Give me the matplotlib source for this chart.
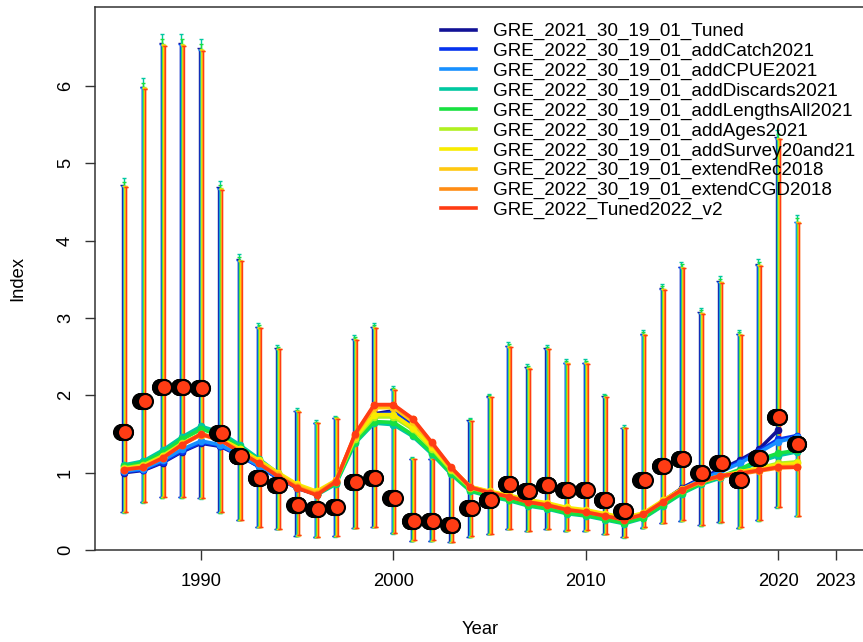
import numpy as np
import matplotlib
matplotlib.use("Agg")
import matplotlib.pyplot as plt

plt.rcParams['font.family'] = ['Liberation Sans', 'DejaVu Sans']

# Dados
anos = list(range(1986, 2022))

obs = [1.52, 1.93, 2.11, 2.11, 2.09, 1.51, 1.21, 0.93, 0.84, 0.58,
       0.53, 0.55, 0.88, 0.93, 0.67, 0.38, 0.38, 0.32, 0.54, 0.64,
       0.85, 0.76, 0.84, 0.78, 0.78, 0.64, 0.51, 0.90, 1.09, 1.18,
       0.99, 1.12, 0.90, 1.19, 1.72, 1.37]

modelos = ["GRE_2021_30_19_01_Tuned",
           "GRE_2022_30_19_01_addCatch2021",
           "GRE_2022_30_19_01_addCPUE2021",
           "GRE_2022_30_19_01_addDiscards2021",
           "GRE_2022_30_19_01_addLengthsAll2021",
           "GRE_2022_30_19_01_addAges2021",
           "GRE_2022_30_19_01_addSurvey20and21",
           "GRE_2022_30_19_01_extendRec2018",
           "GRE_2022_30_19_01_extendCGD2018",
           "GRE_2022_Tuned2022_v2"]

cores = ['#121296', '#0533EE', '#1890FF', '#00C8A0', '#18E040',
         '#B0F020', '#F8EC00', '#FFC810', '#FF8C14', '#FF3C14']

# desvio (log) usado no intervalo de cada modelo
sd_mod = [0.578, 0.577, 0.576, 0.587, 0.582, 0.577, 0.576, 0.576, 0.575, 0.575]

exp1 = [1.00, 1.03, 1.13, 1.27, 1.38, 1.34, 1.22, 1.08, 0.93, 0.80,
        0.72, 0.88, 1.42, 1.76, 1.80, 1.62, 1.33, 1.03, 0.80, 0.74,
        0.69, 0.62, 0.58, 0.52, 0.49, 0.44, 0.39, 0.46, 0.63, 0.80,
        0.93, 1.04, 1.16, 1.30, 1.55, None]
exp2 = [1.01, 1.04, 1.14, 1.28, 1.39, 1.35, 1.22, 1.08, 0.93, 0.80,
        0.72, 0.88, 1.43, 1.74, 1.78, 1.60, 1.32, 1.02, 0.79, 0.73,
        0.68, 0.61, 0.57, 0.51, 0.48, 0.43, 0.38, 0.45, 0.62, 0.79,
        0.92, 1.02, 1.14, 1.28, 1.43, 1.48]
exp3 = [1.02, 1.05, 1.16, 1.30, 1.41, 1.36, 1.23, 1.09, 0.94, 0.80,
        0.72, 0.87, 1.42, 1.72, 1.75, 1.58, 1.31, 1.02, 0.79, 0.72,
        0.67, 0.60, 0.56, 0.50, 0.47, 0.42, 0.37, 0.44, 0.61, 0.78,
        0.91, 1.01, 1.12, 1.26, 1.40, 1.46]
exp4 = [1.10, 1.15, 1.29, 1.46, 1.60, 1.52, 1.36, 1.18, 0.99, 0.82,
        0.71, 0.85, 1.38, 1.64, 1.62, 1.47, 1.24, 0.98, 0.76, 0.69,
        0.64, 0.57, 0.53, 0.47, 0.44, 0.39, 0.34, 0.41, 0.57, 0.73,
        0.85, 0.93, 1.02, 1.14, 1.22, 1.27]
exp5 = [1.08, 1.13, 1.26, 1.43, 1.56, 1.49, 1.33, 1.16, 0.98, 0.82,
        0.72, 0.86, 1.40, 1.66, 1.65, 1.49, 1.26, 0.99, 0.77, 0.70,
        0.65, 0.58, 0.54, 0.48, 0.45, 0.40, 0.35, 0.42, 0.58, 0.74,
        0.86, 0.95, 1.04, 1.17, 1.25, 1.29]
exp6 = [1.06, 1.10, 1.22, 1.38, 1.50, 1.44, 1.30, 1.15, 0.98, 0.83,
        0.74, 0.88, 1.44, 1.72, 1.72, 1.56, 1.31, 1.03, 0.80, 0.74,
        0.69, 0.63, 0.59, 0.53, 0.50, 0.45, 0.40, 0.47, 0.63, 0.78,
        0.88, 0.95, 1.00, 1.06, 1.12, 1.14]
exp7 = [1.05, 1.09, 1.21, 1.37, 1.49, 1.44, 1.31, 1.16, 1.00, 0.85,
        0.76, 0.90, 1.46, 1.75, 1.75, 1.58, 1.33, 1.05, 0.82, 0.76,
        0.71, 0.65, 0.61, 0.55, 0.52, 0.47, 0.42, 0.48, 0.64, 0.79,
        0.89, 0.96, 1.01, 1.06, 1.10, 1.12]
exp8 = [1.05, 1.08, 1.20, 1.37, 1.50, 1.43, 1.29, 1.14, 0.98, 0.83,
        0.74, 0.90, 1.48, 1.84, 1.84, 1.66, 1.37, 1.06, 0.82, 0.75,
        0.70, 0.63, 0.59, 0.53, 0.50, 0.45, 0.40, 0.47, 0.63, 0.78,
        0.89, 0.96, 1.00, 1.04, 1.08, 1.09]
exp9 = [1.04, 1.07, 1.19, 1.36, 1.49, 1.42, 1.27, 1.12, 0.96, 0.81,
        0.72, 0.89, 1.49, 1.87, 1.87, 1.69, 1.38, 1.06, 0.81, 0.74,
        0.69, 0.62, 0.58, 0.52, 0.49, 0.44, 0.39, 0.46, 0.62, 0.77,
        0.88, 0.95, 0.98, 1.02, 1.06, 1.07]
exp10 = [1.04, 1.07, 1.19, 1.36, 1.50, 1.42, 1.27, 1.12, 0.95, 0.80,
         0.71, 0.88, 1.50, 1.88, 1.88, 1.70, 1.39, 1.07, 0.81, 0.74,
         0.69, 0.62, 0.58, 0.52, 0.49, 0.44, 0.39, 0.46, 0.62, 0.78,
         0.89, 0.96, 0.99, 1.03, 1.07, 1.07]

esperados = [exp1, exp2, exp3, exp4, exp5, exp6, exp7, exp8, exp9, exp10]

# ultimo ano de dados de cada modelo
ano_fim = [2020, 2021, 2021, 2021, 2021, 2021, 2021, 2021, 2021, 2021]

xticks = [1990, 2000, 2010, 2020, 2023]

fs = 13.2
fig = plt.figure(figsize=(8.63, 6.42), dpi=100)
ax = fig.add_axes([95/863, 92/642, 770/863, 543/642])

anos = np.array(anos)
obs_a = np.array(obs)
n = len(modelos)
desloc = np.linspace(-0.1, 0.1, n)
desloc_pt = np.linspace(-0.16, 0.06, n)

for i in range(0, n):
    ok = anos <= ano_fim[i]
    fator = np.exp(1.96*sd_mod[i])
    lo = obs_a[ok]/fator
    hi = obs_a[ok]*fator
    ax.errorbar(anos[ok] + desloc[i], obs_a[ok], yerr=[obs_a[ok] - lo, hi - obs_a[ok]],
                fmt='none', ecolor=cores[i], elinewidth=1.0, capsize=1.6,
                capthick=1.0, zorder=2)

for i in range(0, n):
    y = np.array([np.nan if v is None else v for v in esperados[i]])
    ax.plot(anos, y, color=cores[i], lw=2.6, marker='o', ms=4.5,
            label=modelos[i], zorder=3)

for i in range(0, n):
    ok = anos <= ano_fim[i]
    ax.plot(anos[ok] + desloc_pt[i], obs_a[ok], linestyle='none', marker='o',
            ms=10.8, mfc=cores[i], mec='black', mew=1.5, zorder=4)

ax.set_xlim(1984.48, 2024.52)
ax.set_ylim(0, 7.02)
ax.set_xticks(xticks)
ax.set_yticks([0, 1, 2, 3, 4, 5, 6])
ax.tick_params(axis='both', length=7.2, width=1.0, labelsize=fs, color='#333333')
ax.tick_params(axis='x', pad=9.5)
ax.tick_params(axis='y', pad=8)
for lab in ax.get_yticklabels():
    lab.set_rotation(90)
    lab.set_va('center')
for s in ax.spines.values():
    s.set_linewidth(1.1)
    s.set_color('#333333')

ax.set_xlabel('Year', fontsize=fs, labelpad=22)
ax.set_ylabel('Index', fontsize=fs, labelpad=22)

leg = ax.legend(loc='upper left', bbox_to_anchor=(441/863, 1 - 23/642),
                bbox_transform=fig.transFigure, frameon=False, fontsize=13.6,
                handlelength=1.85, handletextpad=0.88, labelspacing=0.13,
                borderpad=0, borderaxespad=0)
for h in leg.get_lines():
    h.set_marker('')
    h.set_linewidth(2.6)

fig.savefig('out.png', dpi=100)
